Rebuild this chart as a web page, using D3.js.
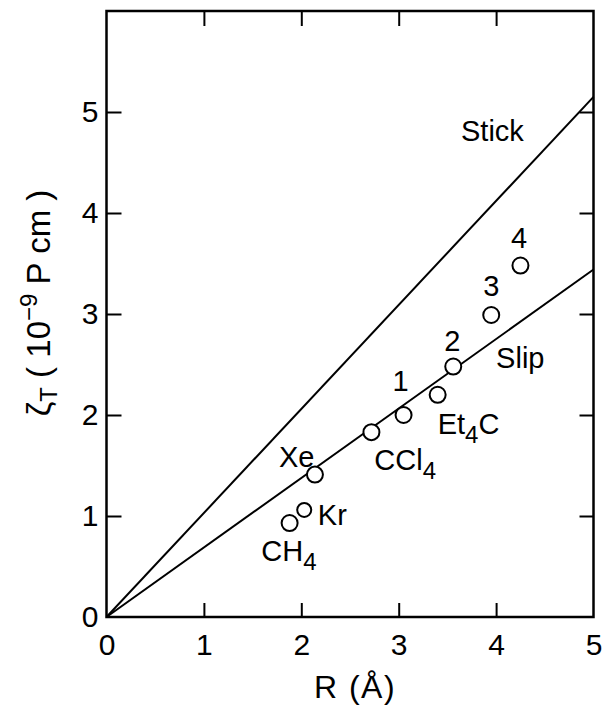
<!DOCTYPE html>
<html>
<head>
<meta charset="utf-8">
<script src="https://cdn.jsdelivr.net/npm/d3@7"></script>
<style>
  html, body { margin: 0; padding: 0; background: #fff; }
  svg { display: block; }
  text { font-family: "Liberation Sans", Arial, sans-serif; fill: #000; }
  .tick line { stroke: #000; stroke-width: 2; }
  .tick text { font-size: 30px; }
</style>
</head>
<body>
<svg width="603" height="707"></svg>
<script>
// molecules: radius R (Å) vs friction ζT (1e-9 P cm)
const names = ["CH4", "Kr", "Xe", "CCl4", "1", "Et4C", "2", "3", "4"];
const radius = [1.88, 2.03, 2.14, 2.72, 3.05, 3.40, 3.56, 3.95, 4.25];
const zeta = [0.93, 1.06, 1.41, 1.83, 2.00, 2.20, 2.48, 2.99, 3.48];

// hydrodynamic lines (straight through origin)
const stickLine = [[0, 0], [5, 5.15]];
const slipLine = [[0, 0], [5, 3.44]];

const xTicks = [0, 1, 2, 3, 4, 5];
const yTicks = [0, 1, 2, 3, 4, 5];

// where each label sits, in data units (left/center x, baseline y)
const annotations = [
  { text: "Stick", at: [3.64, 4.71], anchor: "start" },
  { text: "Slip", at: [4.0, 2.47], anchor: "start" },
  { text: "4", at: [4.235, 3.65], anchor: "middle" },
  { text: "3", at: [3.95, 3.18], anchor: "middle" },
  { text: "2", at: [3.55, 2.63], anchor: "middle" },
  { text: "1", at: [3.02, 2.24], anchor: "middle" },
  { text: "Et|4|C", at: [3.40, 1.81], anchor: "start" },
  { text: "CCl|4", at: [2.75, 1.455], anchor: "start" },
  { text: "Xe", at: [1.77, 1.49], anchor: "start" },
  { text: "Kr", at: [2.17, 0.91], anchor: "start" },
  { text: "CH|4", at: [1.59, 0.55], anchor: "start" }
];

const svg = d3.select("svg");
const x = d3.scaleLinear().domain([0, 5]).range([106.5, 593.5]);
const y = d3.scaleLinear().domain([0, 6]).range([617, 11]);

// frame
svg.append("rect")
  .attr("x", x(0))
  .attr("y", y(6))
  .attr("width", x(5) - x(0))
  .attr("height", y(0) - y(6))
  .attr("fill", "none")
  .attr("stroke", "#000")
  .attr("stroke-width", 2.5);

// axes, ticks pointing inward
svg.append("g")
  .attr("transform", `translate(0,${y(0)})`)
  .call(d3.axisBottom(x).tickValues(xTicks).tickSizeInner(-14).tickSizeOuter(0).tickPadding(17).tickFormat(d3.format("d")))
  .call(g => g.select(".domain").remove())
  .call(g => g.selectAll(".tick line").filter(d => d === 0 || d === 5).remove());

svg.append("g")
  .attr("transform", `translate(${x(0)},0)`)
  .call(d3.axisLeft(y).tickValues(yTicks).tickSizeInner(-15).tickSizeOuter(0).tickPadding(8).tickFormat(d3.format("d")))
  .call(g => g.select(".domain").remove())
  .call(g => g.selectAll(".tick line").filter(d => d === 0).remove());

svg.append("g")
  .attr("transform", `translate(0,${y(6)})`)
  .call(d3.axisTop(x).tickValues(xTicks.slice(1, 5)).tickSizeInner(-15).tickSizeOuter(0).tickFormat(""))
  .call(g => g.select(".domain").remove());

svg.append("g")
  .attr("transform", `translate(${x(5)},0)`)
  .call(d3.axisRight(y).tickValues(yTicks.slice(1)).tickSizeInner(-14).tickSizeOuter(0).tickFormat(""))
  .call(g => g.select(".domain").remove());

svg.selectAll(".tick text").attr("font-family", null).attr("font-size", null);

// axis titles
svg.append("text")
  .attr("x", 355)
  .attr("y", 698)
  .attr("text-anchor", "middle")
  .attr("font-size", 32)
  .attr("letter-spacing", 1.5)
  .text("R (Å)");

const yTitle = svg.append("text")
  .attr("transform", "translate(50,303) rotate(-90)")
  .attr("text-anchor", "middle")
  .attr("font-size", 33);
yTitle.append("tspan").text("ζ");
yTitle.append("tspan").attr("font-size", 24).attr("dy", 7).text("T");
yTitle.append("tspan").attr("dy", -7).text(" ( 10");
yTitle.append("tspan").attr("font-size", 24).attr("dy", -13).text("−9");
yTitle.append("tspan").attr("dy", 13).text(" P cm )");

// stick / slip lines
const line = d3.line().x(d => x(d[0])).y(d => y(d[1]));
svg.append("g")
  .selectAll("path")
  .data([stickLine, slipLine])
  .enter()
  .append("path")
  .attr("d", line)
  .attr("fill", "none")
  .attr("stroke", "#000")
  .attr("stroke-width", 2);

// data points
svg.append("g")
  .selectAll("circle")
  .data(names.map((n, i) => ({ name: n, r: radius[i], z: zeta[i] })))
  .enter()
  .append("circle")
  .attr("cx", d => x(d.r))
  .attr("cy", d => y(d.z))
  .attr("r", d => d.name === "Kr" ? 7 : 8)
  .attr("fill", "#fff")
  .attr("stroke", "#000")
  .attr("stroke-width", 2);

// labels; "|" splits out the subscript
svg.append("g")
  .selectAll("text")
  .data(annotations)
  .enter()
  .append("text")
  .attr("x", d => x(d.at[0]))
  .attr("y", d => y(d.at[1]))
  .attr("text-anchor", d => d.anchor)
  .attr("font-size", 29)
  .each(function(d) {
    const parts = d.text.split("|");
    const t = d3.select(this);
    parts.forEach((p, i) => {
      const sp = t.append("tspan").text(p);
      if (i === 1) sp.attr("font-size", 24).attr("dy", 9);
      if (i === 2) sp.attr("dy", -9);
    });
  });
</script>
</body>
</html>
